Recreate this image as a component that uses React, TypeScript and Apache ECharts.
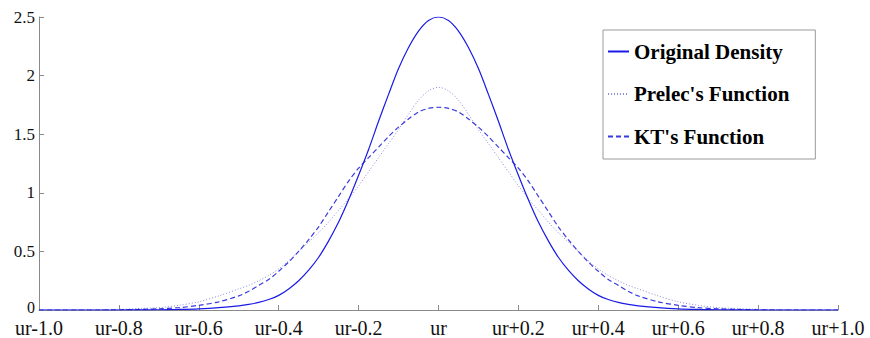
import React, { useEffect, useRef } from "react";
import * as echarts from "echarts";

const xValues = [
  -1.0, -0.95, -0.9, -0.85, -0.8, -0.75, -0.7, -0.65, -0.6, -0.55,
  -0.5, -0.475, -0.45, -0.425, -0.4, -0.375, -0.35, -0.325, -0.3, -0.275, -0.25, -0.225, -0.2, -0.175, -0.15, -0.125, -0.1, -0.075, -0.05, -0.025,
  0,
  0.025, 0.05, 0.075, 0.1, 0.125, 0.15, 0.175, 0.2, 0.225, 0.25, 0.275, 0.3, 0.325, 0.35, 0.375, 0.4, 0.425, 0.45, 0.475, 0.5,
  0.55, 0.6, 0.65, 0.7, 0.75, 0.8, 0.85, 0.9, 0.95, 1.0,
];

const originalDensity = [
  0, 0, 0, 0, 0, 0.001, 0.002, 0.005, 0.01, 0.02,
  0.036, 0.048, 0.065, 0.09, 0.125, 0.18, 0.25, 0.34, 0.45, 0.59, 0.75, 0.94, 1.15, 1.37, 1.61, 1.84, 2.06, 2.24, 2.38, 2.47,
  2.5,
  2.47, 2.38, 2.24, 2.06, 1.84, 1.61, 1.37, 1.15, 0.94, 0.75, 0.59, 0.45, 0.34, 0.25, 0.18, 0.125, 0.09, 0.065, 0.048, 0.036,
  0.02, 0.01, 0.005, 0.002, 0.001, 0, 0, 0, 0, 0,
];

const prelecFunction = [
  0, 0, 0.001, 0.003, 0.006, 0.012, 0.02, 0.04, 0.07, 0.12,
  0.18, 0.21, 0.25, 0.295, 0.35, 0.42, 0.5, 0.58, 0.66, 0.75, 0.85, 0.95, 1.06, 1.18, 1.3, 1.42, 1.54, 1.67, 1.79, 1.87,
  1.9,
  1.87, 1.79, 1.67, 1.54, 1.42, 1.3, 1.18, 1.06, 0.95, 0.85, 0.75, 0.66, 0.58, 0.5, 0.42, 0.35, 0.295, 0.25, 0.21, 0.18,
  0.12, 0.07, 0.04, 0.02, 0.012, 0.006, 0.003, 0.001, 0, 0,
];

const ktFunction = [
  0, 0, 0, 0, 0.002, 0.005, 0.01, 0.02, 0.04, 0.07,
  0.12, 0.16, 0.21, 0.26, 0.33, 0.41, 0.5, 0.6, 0.71, 0.84, 0.97, 1.1, 1.21, 1.3, 1.39, 1.48, 1.56, 1.63, 1.69, 1.72,
  1.73,
  1.72, 1.69, 1.63, 1.56, 1.48, 1.39, 1.3, 1.21, 1.1, 0.97, 0.84, 0.71, 0.6, 0.5, 0.41, 0.33, 0.26, 0.21, 0.16, 0.12,
  0.07, 0.04, 0.02, 0.01, 0.005, 0.002, 0, 0, 0, 0,
];

const xTickLabels = [
  "ur-1.0", "ur-0.8", "ur-0.6", "ur-0.4", "ur-0.2", "ur", "ur+0.2", "ur+0.4", "ur+0.6", "ur+0.8", "ur+1.0",
];
const yTickLabels = ["0", "0.5", "1", "1.5", "2", "2.5"];
const seriesNames = ["Original Density", "Prelec's Function", "KT's Function"];

const FONT = "Liberation Serif";

export default function App() {
  const ref = useRef<HTMLDivElement>(null);
  useEffect(() => {
    if (!ref.current) return;
    const chart = echarts.init(ref.current, undefined, { renderer: "svg" });
    const pairs = (ys: number[]) => xValues.map((x, i) => [x, ys[i]]);
    chart.setOption({
      animation: false,
      backgroundColor: "#ffffff",
      grid: { left: 39, right: 32, top: 17, bottom: 27, containLabel: false },
      xAxis: {
        type: "value",
        min: -1,
        max: 1,
        interval: 0.2,
        axisLine: { show: true, onZero: false, lineStyle: { color: "#8a8a8a", width: 1 } },
        axisTick: { show: true, inside: true, length: 5, lineStyle: { color: "#8a8a8a" } },
        splitLine: { show: false },
        axisLabel: {
          margin: 10,
          color: "#111",
          fontFamily: FONT,
          fontSize: 20,
          lineHeight: 16,
          formatter: (v: number) => xTickLabels[Math.round((v + 1) / 0.2)] ?? "",
        },
      },
      yAxis: {
        type: "value",
        min: 0,
        max: 2.5,
        interval: 0.5,
        axisLine: { show: true, onZero: false, lineStyle: { color: "#8a8a8a", width: 1 } },
        axisTick: { show: true, inside: true, length: 5, lineStyle: { color: "#8a8a8a" } },
        splitLine: { show: false },
        axisLabel: {
          margin: 4,
          color: "#111",
          fontFamily: FONT,
          fontSize: 17,
          lineHeight: 10,
          formatter: (v: number) => {
            const i = Math.round(v / 0.5);
            const s = yTickLabels[i] ?? "";
            return i === 0 ? "{z|" + s + "}" : s;
          },
          rich: {
            z: { fontFamily: FONT, fontSize: 16, color: "#111", lineHeight: 10, padding: [0, 0, 6, 0] },
          },
        },
      },
      legend: {
        orient: "vertical",
        left: 603,
        top: 30,
        padding: [11, 26, 12, 4],
        itemGap: 21.5,
        itemWidth: 21,
        itemHeight: 14,
        backgroundColor: "#ffffff",
        borderColor: "#9a9a9a",
        borderWidth: 1,
        borderRadius: 0,
        itemStyle: { opacity: 0 },
        textStyle: { fontFamily: FONT, fontWeight: "bold", fontSize: 21, color: "#000", lineHeight: 20 },
        data: seriesNames,
      },
      series: [
        {
          name: seriesNames[0],
          type: "line",
          data: pairs(originalDensity),
          smooth: 0.3,
          symbol: "none",
          lineStyle: { color: "#1a1ae6", width: 1.2, type: "solid" },
          itemStyle: { color: "#1a1ae6" },
          z: 3,
        },
        {
          name: seriesNames[1],
          type: "line",
          data: pairs(prelecFunction),
          smooth: 0.3,
          symbol: "none",
          lineStyle: { color: "#8a8ad8", width: 1, type: [1, 2] },
          itemStyle: { color: "#8a8ad8" },
          z: 2,
        },
        {
          name: seriesNames[2],
          type: "line",
          data: pairs(ktFunction),
          smooth: 0.3,
          symbol: "none",
          lineStyle: { color: "#3a3ae0", width: 1.2, type: [5, 3] },
          itemStyle: { color: "#3a3ae0" },
          z: 2,
        },
      ],
    });
    return () => chart.dispose();
  }, []);
  return <div ref={ref} style={{ width: 870, height: 338, position: "absolute", left: 0, top: 0 }} />;
}
